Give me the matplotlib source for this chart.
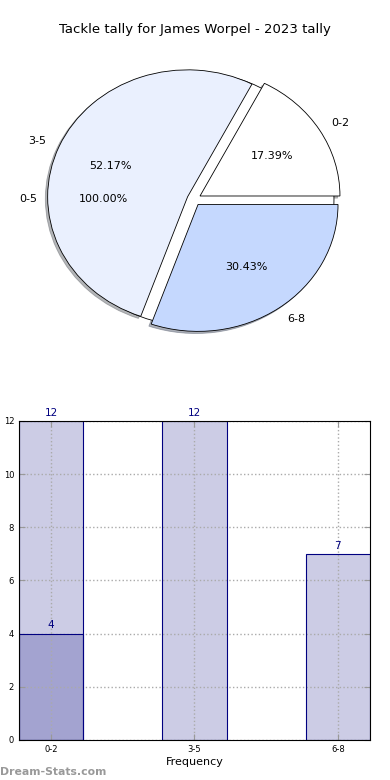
import matplotlib
matplotlib.use('Agg')
import matplotlib.pyplot as plt

# pie data
pie_labels = ["0-2", "3-5", "6-8"]
pie_vals = [4, 12, 7]
pie_colors = ["#ffffff", "#eaf0fe", "#c5d8fe"]
total_label = ["0-5"]
total_val = [23]

# bar data
cats = ["0-2", "3-5", "6-8"]
counts = [12, 12, 7]
sub_cats = ["0-2"]
sub_counts = [4]

fig = plt.figure(figsize=(3.9, 7.8), dpi=100)
fig.suptitle("Tackle tally for James Worpel - 2023 tally", y=0.97, fontsize=9.5)

# pie
ax1 = fig.add_axes([0.031, 0.533, 0.933, 0.423])
ax1.pie(total_val, labels=total_label, autopct="%.2f%%", colors=["white"],
        startangle=0, wedgeprops=dict(edgecolor="black", linewidth=0.6),
        textprops=dict(fontsize=8), pctdistance=0.65, labeldistance=1.12)
ax1.pie(pie_vals, labels=pie_labels, autopct="%.2f%%", colors=pie_colors,
        explode=[0.05, 0.05, 0.05], startangle=0,
        shadow=dict(ox=-0.012, oy=-0.012, shade=0.55),
        wedgeprops=dict(edgecolor="black", linewidth=0.6),
        textprops=dict(fontsize=8))
ax1.set_aspect("auto")
ax1.set_xlim(-1.3, 1.3)
ax1.set_ylim(-1.3, 1.3)

# bars
ax2 = fig.add_axes([0.0487, 0.0513, 0.9, 0.409])
ax2.bar(cats, counts, width=0.45, color="navy", alpha=0.2)
ax2.bar(cats, counts, width=0.45, fill=False, edgecolor="navy", linewidth=0.8, zorder=2)
ax2.bar(sub_cats, sub_counts, width=0.45, color="navy", alpha=0.2)
ax2.bar(sub_cats, sub_counts, width=0.45, fill=False, edgecolor="navy", linewidth=0.8, zorder=2)
for c, v in zip(cats, counts):
    ax2.text(c, v + 0.12, str(v), ha="center", va="bottom", color="navy", fontsize=7.5)
for c, v in zip(sub_cats, sub_counts):
    ax2.text(c, v + 0.12, str(v), ha="center", va="bottom", color="navy", fontsize=7.5)

ax2.set_xlim(-0.225, 2.225)
ax2.set_ylim(0, 12)
ax2.set_yticks(range(0, 13, 2))
ax2.grid(True, linestyle=":", color="#aaaaaa", linewidth=1)
ax2.set_axisbelow("line")
for s in ax2.spines.values():
    s.set_zorder(3)
ax2.tick_params(direction="in", top=True, right=True, labelsize=6, color="#999999", length=4)
ax2.set_xlabel("Frequency", fontsize=8, labelpad=2)
ax2.set_ylabel("Stat Tally", fontsize=8)
ax2.yaxis.set_label_coords(-0.055, 0.5)

fig.text(0.0, 0.007, "Dream-Stats.com", color="#999999", fontsize=7.8, fontweight="bold")

fig.savefig("out.png")
